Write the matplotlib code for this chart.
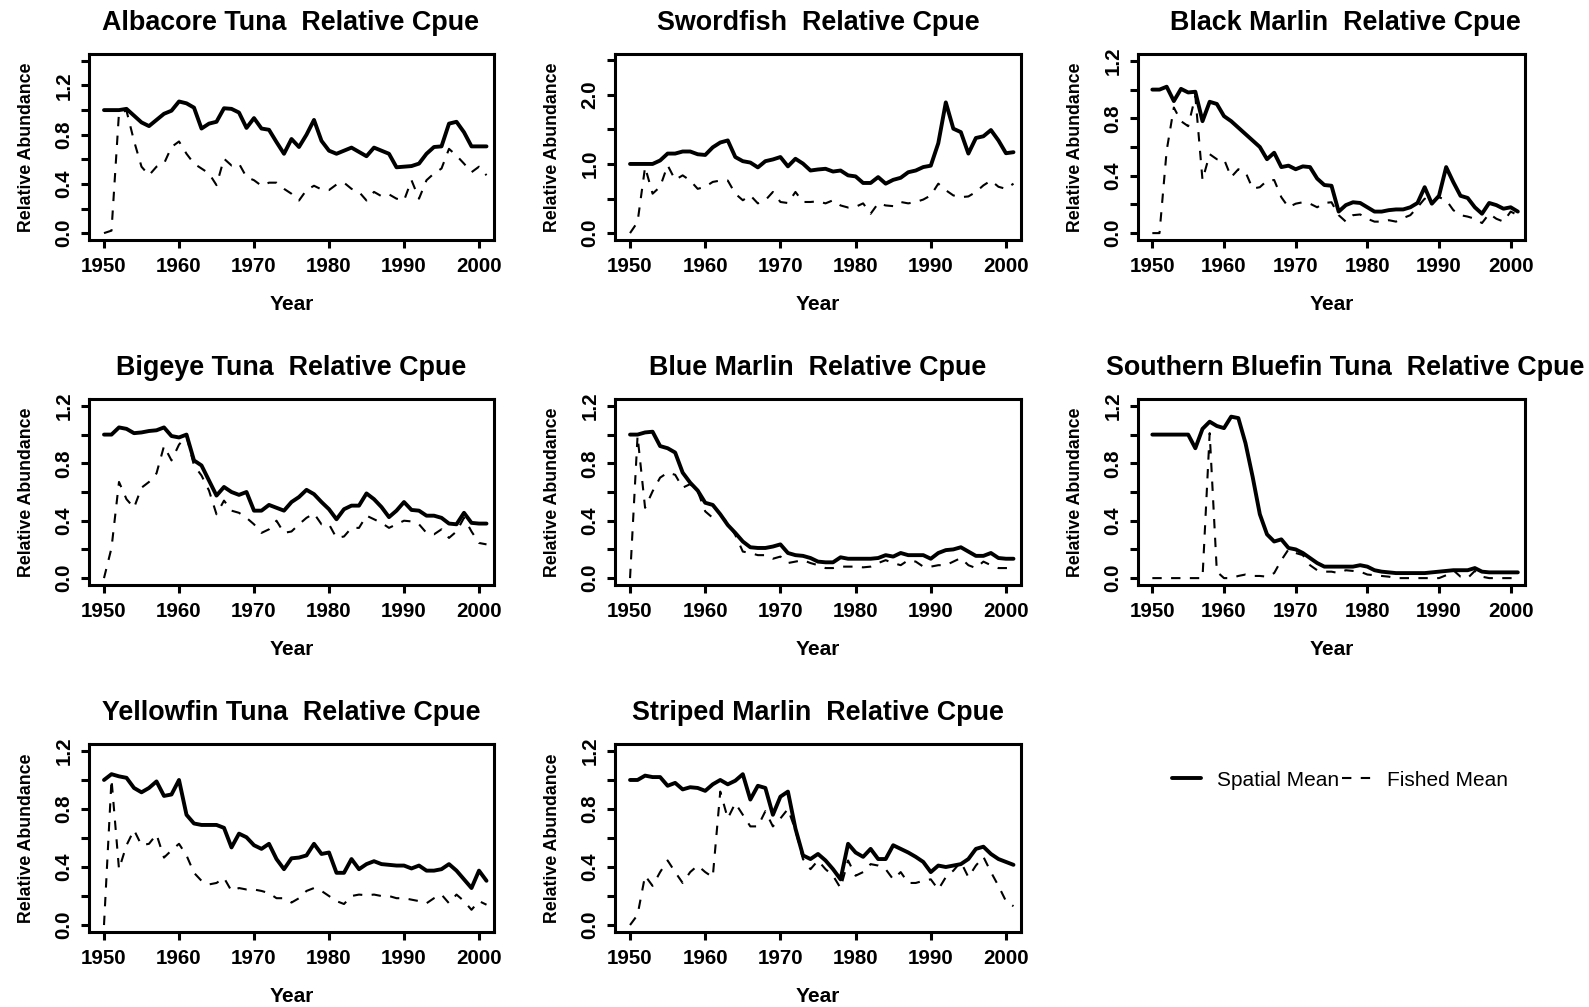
import matplotlib
matplotlib.use('Agg')
import matplotlib.pyplot as plt

plt.rcParams['font.family'] = ['Liberation Sans', 'DejaVu Sans']

years = list(range(1950, 2002))

# relative cpue, one value per year 1950-2001
alb_spatial = [1.0, 1.0, 1.0, 1.01, 0.955, 0.90, 0.87, 0.92, 0.97, 0.995,
               1.07, 1.055, 1.02, 0.85, 0.89, 0.905, 1.015, 1.01, 0.98, 0.855,
               0.935, 0.85, 0.84, 0.74, 0.645, 0.765, 0.70, 0.80, 0.92, 0.75,
               0.67, 0.645, 0.67, 0.695, 0.66, 0.625, 0.695, 0.67, 0.645, 0.535,
               0.54, 0.545, 0.565, 0.645, 0.70, 0.705, 0.89, 0.905, 0.82, 0.705,
               0.705, 0.705]
alb_fished = [0.0, 0.02, 0.98, 0.995, 0.75, 0.54, 0.47, 0.54, 0.565, 0.70,
              0.745, 0.645, 0.565, 0.525, 0.485, 0.39, 0.605, 0.55, 0.565, 0.455,
              0.43, 0.385, 0.41, 0.41, 0.36, 0.32, 0.265, 0.35, 0.385, 0.355,
              0.35, 0.395, 0.41, 0.36, 0.335, 0.265, 0.335, 0.30, 0.315, 0.28,
              0.265, 0.43, 0.28, 0.43, 0.485, 0.525, 0.685, 0.63, 0.565, 0.495,
              0.54, 0.47]

swo_spatial = [1.0, 1.0, 1.0, 1.0, 1.05, 1.15, 1.15, 1.18, 1.18, 1.14,
               1.13, 1.24, 1.31, 1.34, 1.10, 1.04, 1.02, 0.95, 1.04, 1.065,
               1.10, 0.965, 1.075, 1.005, 0.905, 0.92, 0.93, 0.89, 0.905, 0.835,
               0.82, 0.725, 0.725, 0.81, 0.715, 0.77, 0.80, 0.88, 0.905, 0.955,
               0.975, 1.30, 1.89, 1.51, 1.46, 1.15, 1.375, 1.40, 1.49, 1.34,
               1.155, 1.17]
swo_fished = [0.0, 0.16, 0.955, 0.57, 0.67, 0.98, 0.77, 0.835, 0.76, 0.64,
              0.67, 0.74, 0.76, 0.76, 0.57, 0.475, 0.545, 0.43, 0.475, 0.595,
              0.45, 0.435, 0.595, 0.45, 0.45, 0.46, 0.43, 0.475, 0.40, 0.37,
              0.38, 0.43, 0.28, 0.43, 0.40, 0.39, 0.45, 0.43, 0.45, 0.485,
              0.545, 0.715, 0.62, 0.545, 0.52, 0.53, 0.595, 0.69, 0.76, 0.67,
              0.64, 0.715]

bkm_spatial = [1.0, 1.0, 1.02, 0.92, 1.005, 0.98, 0.985, 0.78, 0.915, 0.90,
               0.815, 0.78, 0.735, 0.69, 0.645, 0.60, 0.515, 0.56, 0.46, 0.47,
               0.445, 0.465, 0.46, 0.38, 0.335, 0.33, 0.15, 0.195, 0.215, 0.21,
               0.18, 0.15, 0.15, 0.16, 0.165, 0.165, 0.18, 0.21, 0.32, 0.205,
               0.26, 0.46, 0.355, 0.26, 0.245, 0.18, 0.135, 0.21, 0.195, 0.17,
               0.18, 0.15]
bkm_fished = [0.0, 0.0, 0.575, 0.875, 0.78, 0.745, 0.955, 0.37, 0.55, 0.515,
              0.515, 0.39, 0.445, 0.425, 0.31, 0.32, 0.365, 0.37, 0.25, 0.18,
              0.205, 0.215, 0.205, 0.18, 0.21, 0.215, 0.125, 0.08, 0.125, 0.13,
              0.10, 0.08, 0.08, 0.09, 0.08, 0.105, 0.125, 0.18, 0.24, 0.215,
              0.25, 0.23, 0.16, 0.125, 0.115, 0.10, 0.07, 0.135, 0.10, 0.08,
              0.15, 0.125]

big_spatial = [1.0, 1.0, 1.05, 1.04, 1.01, 1.015, 1.025, 1.03, 1.05, 0.99,
               0.98, 1.0, 0.82, 0.785, 0.68, 0.575, 0.635, 0.60, 0.58, 0.60,
               0.47, 0.47, 0.51, 0.49, 0.47, 0.53, 0.565, 0.615, 0.585, 0.53,
               0.48, 0.41, 0.48, 0.505, 0.505, 0.59, 0.55, 0.495, 0.425, 0.47,
               0.53, 0.475, 0.47, 0.435, 0.435, 0.42, 0.38, 0.375, 0.455, 0.385,
               0.38, 0.38]
big_fished = [0.0, 0.21, 0.67, 0.55, 0.49, 0.63, 0.67, 0.73, 0.92, 0.82,
              0.93, 0.99, 0.785, 0.715, 0.61, 0.445, 0.54, 0.47, 0.455, 0.42,
              0.375, 0.315, 0.34, 0.40, 0.315, 0.325, 0.375, 0.42, 0.45, 0.375,
              0.375, 0.28, 0.29, 0.35, 0.35, 0.435, 0.41, 0.385, 0.35, 0.375,
              0.40, 0.395, 0.375, 0.315, 0.305, 0.34, 0.28, 0.325, 0.42, 0.325,
              0.245, 0.235]

bma_spatial = [1.0, 1.0, 1.015, 1.02, 0.92, 0.905, 0.875, 0.735, 0.665, 0.61,
               0.525, 0.51, 0.445, 0.37, 0.315, 0.255, 0.215, 0.21, 0.21, 0.22,
               0.235, 0.175, 0.16, 0.155, 0.14, 0.115, 0.11, 0.11, 0.145, 0.135,
               0.135, 0.135, 0.135, 0.14, 0.16, 0.15, 0.175, 0.16, 0.16, 0.16,
               0.135, 0.175, 0.195, 0.20, 0.215, 0.185, 0.155, 0.155, 0.175, 0.14,
               0.135, 0.135]
bma_fished = [0.0, 0.99, 0.49, 0.605, 0.70, 0.735, 0.72, 0.63, 0.655, 0.605,
              0.465, 0.42, 0.44, 0.385, 0.30, 0.185, 0.175, 0.16, 0.16, 0.135,
              0.15, 0.105, 0.115, 0.125, 0.105, 0.09, 0.07, 0.07, 0.08, 0.08,
              0.08, 0.075, 0.08, 0.105, 0.125, 0.105, 0.09, 0.125, 0.115, 0.08,
              0.08, 0.09, 0.09, 0.115, 0.14, 0.09, 0.07, 0.115, 0.09, 0.07,
              0.07, 0.07]

sbt_spatial = [1.0, 1.0, 1.0, 1.0, 1.0, 1.0, 0.905, 1.04, 1.09, 1.06,
               1.045, 1.125, 1.115, 0.94, 0.705, 0.445, 0.305, 0.255, 0.27, 0.21,
               0.20, 0.175, 0.14, 0.105, 0.08, 0.08, 0.08, 0.08, 0.08, 0.09,
               0.08, 0.055, 0.045, 0.04, 0.035, 0.035, 0.035, 0.035, 0.035, 0.04,
               0.045, 0.05, 0.055, 0.055, 0.055, 0.07, 0.045, 0.04, 0.04, 0.04,
               0.04, 0.04]
sbt_fished = [0.0, 0.0, 0.0, 0.0, 0.0, 0.0, 0.0, 0.0, 1.01, 0.045,
              0.0, 0.0, 0.015, 0.025, 0.015, 0.015, 0.01, 0.035, 0.125, 0.20,
              0.175, 0.16, 0.09, 0.055, 0.045, 0.045, 0.035, 0.055, 0.05, 0.045,
              0.025, 0.02, 0.015, 0.01, 0.0, 0.0, 0.0, 0.0, 0.0, 0.0,
              0.0, 0.02, 0.055, 0.01, 0.0, 0.05, 0.01, 0.0, 0.0, 0.0,
              0.0, 0.0]

yft_spatial = [1.0, 1.04, 1.025, 1.015, 0.945, 0.915, 0.945, 0.99, 0.89, 0.90,
               1.0, 0.76, 0.70, 0.69, 0.69, 0.69, 0.67, 0.535, 0.63, 0.605,
               0.55, 0.525, 0.56, 0.455, 0.385, 0.46, 0.465, 0.48, 0.56, 0.49,
               0.50, 0.36, 0.36, 0.455, 0.385, 0.42, 0.44, 0.42, 0.415, 0.41,
               0.41, 0.39, 0.41, 0.375, 0.375, 0.385, 0.42, 0.375, 0.315, 0.255,
               0.375, 0.305]
yft_fished = [0.0, 1.005, 0.385, 0.55, 0.655, 0.55, 0.56, 0.625, 0.465, 0.515,
              0.56, 0.48, 0.36, 0.305, 0.28, 0.29, 0.325, 0.235, 0.255, 0.245,
              0.245, 0.235, 0.22, 0.185, 0.185, 0.155, 0.185, 0.235, 0.255, 0.235,
              0.20, 0.165, 0.145, 0.20, 0.21, 0.205, 0.21, 0.20, 0.20, 0.185,
              0.185, 0.175, 0.165, 0.15, 0.185, 0.21, 0.15, 0.21, 0.165, 0.105,
              0.165, 0.14]

sma_spatial = [1.0, 1.0, 1.03, 1.02, 1.02, 0.96, 0.98, 0.935, 0.95, 0.945,
               0.925, 0.97, 1.0, 0.97, 0.995, 1.04, 0.865, 0.96, 0.945, 0.76,
               0.885, 0.92, 0.665, 0.48, 0.455, 0.49, 0.445, 0.385, 0.315, 0.56,
               0.50, 0.47, 0.525, 0.455, 0.455, 0.55, 0.525, 0.50, 0.47, 0.435,
               0.365, 0.41, 0.40, 0.41, 0.42, 0.455, 0.525, 0.54, 0.49, 0.455,
               0.435, 0.415]
sma_fished = [0.0, 0.07, 0.34, 0.27, 0.365, 0.445, 0.365, 0.29, 0.365, 0.41,
              0.365, 0.33, 0.92, 0.735, 0.84, 0.76, 0.68, 0.68, 0.785, 0.68,
              0.735, 0.80, 0.655, 0.455, 0.385, 0.445, 0.385, 0.34, 0.255, 0.445,
              0.34, 0.365, 0.42, 0.41, 0.385, 0.315, 0.365, 0.29, 0.29, 0.305,
              0.315, 0.245, 0.33, 0.375, 0.435, 0.33, 0.41, 0.47, 0.365, 0.27,
              0.165, 0.13]

species = ['Albacore Tuna', 'Swordfish', 'Black Marlin', 'Bigeye Tuna',
           'Blue Marlin', 'Southern Bluefin Tuna', 'Yellowfin Tuna', 'Striped Marlin']
spatial_all = [alb_spatial, swo_spatial, bkm_spatial, big_spatial,
               bma_spatial, sbt_spatial, yft_spatial, sma_spatial]
fished_all = [alb_fished, swo_fished, bkm_fished, big_fished,
              bma_fished, sbt_fished, yft_fished, sma_fished]

xticks = [1950, 1960, 1970, 1980, 1990, 2000]
yticks_std = [0.0, 0.2, 0.4, 0.6, 0.8, 1.0, 1.2]
ylabels_std = ['0.0', '', '0.4', '', '0.8', '', '1.2']
yticks_alb = [0.0, 0.2, 0.4, 0.6, 0.8, 1.0, 1.2, 1.4]
ylabels_alb = ['0.0', '', '0.4', '', '0.8', '', '1.2', '']
yticks_swo = [0.0, 0.5, 1.0, 1.5, 2.0, 2.5]
ylabels_swo = ['0.0', '', '1.0', '', '2.0', '']
ytops = [1.4, 2.49, 1.2, 1.2, 1.2, 1.2, 1.2, 1.2]

W, H = 1589, 1007
col_left = [89, 615, 1138]
col_right = [494, 1021, 1525]
title_cx = [291, 818, 1345]     # title centres, pixels
row_top = [54, 399, 744]
row_bot = [240, 585, 932]

fig = plt.figure(figsize=(W / 100, H / 100), dpi=100)

lines = None
for i in range(8):
    r, c = divmod(i, 3)
    wpx = col_right[c] - col_left[c]
    hpx = row_bot[r] - row_top[r]
    ax = fig.add_axes([col_left[c] / W, 1 - row_bot[r] / H, wpx / W, hpx / H])

    l1, = ax.plot(years, spatial_all[i], color='black', lw=2.8,
                  solid_joinstyle='round', solid_capstyle='round')
    l2, = ax.plot(years, fished_all[i], color='black', lw=1.5,
                  linestyle=(0, (4.5, 4.5)))
    lines = (l1, l2)

    top = ytops[i]
    ax.set_ylim(-0.04 * top, top * 1.04)
    ax.set_xlim(1948, 2002)
    ax.set_xticks(xticks)
    ax.set_xticklabels([str(x) for x in xticks])
    if i == 0:
        ax.set_yticks(yticks_alb)
        ax.set_yticklabels(ylabels_alb)
    elif i == 1:
        ax.set_yticks(yticks_swo)
        ax.set_yticklabels(ylabels_swo)
    else:
        ax.set_yticks(yticks_std)
        ax.set_yticklabels(ylabels_std)

    ax.tick_params(axis='both', direction='out', length=5.5, width=2.2,
                   labelsize=14.8)
    ax.tick_params(axis='x', pad=7)
    ax.tick_params(axis='y', pad=5.5)
    for lab in ax.get_yticklabels():
        lab.set_rotation(90)
        lab.set_verticalalignment('center')
    for lab in ax.get_xticklabels() + ax.get_yticklabels():
        lab.set_fontweight('bold')
    for sp in ax.spines.values():
        sp.set_linewidth(2.2)

    ax.set_title(species[i] + '  Relative Cpue', fontsize=19.4, fontweight='bold',
                 pad=17, x=(title_cx[c] - col_left[c]) / wpx)
    ax.set_xlabel('Year', fontsize=15, fontweight='bold')
    ax.set_ylabel('Relative Abundance', fontsize=12.8, fontweight='bold')
    ax.xaxis.set_label_coords(0.5, -55 / hpx)
    ax.yaxis.set_label_coords(-54 / wpx, 0.5)

fig.legend(lines, ['Spatial Mean', 'Fished Mean'], ncol=2, frameon=False,
           loc='center', bbox_to_anchor=(1340 / W, 1 - 780 / H),
           prop={'size': 15},
           handlelength=1.4, handletextpad=0.8, columnspacing=0.1)

fig.savefig('out.png', dpi=100)
